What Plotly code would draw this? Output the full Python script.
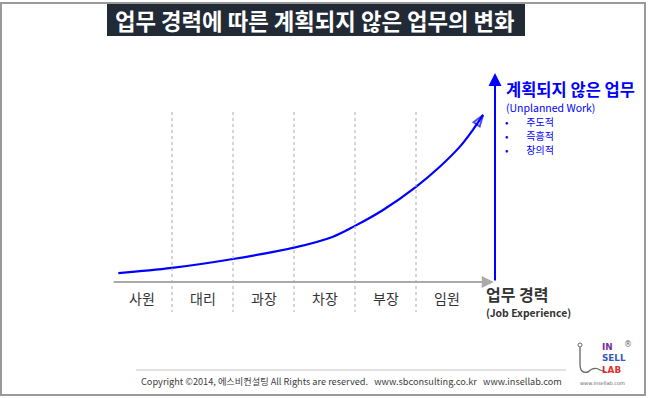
import plotly.graph_objects as go

# ---- data ----
stages = ["사원", "대리", "과장", "차장", "부장", "임원"]
boundaries = [1, 2, 3, 4, 5]
curve_x = [0.12, 1.0, 2.0, 3.0, 3.64, 4.0, 4.46, 5.0, 5.39, 5.72, 5.93, 6.10]
curve_y = [4.3, 6.8, 11.1, 16.6, 21.9, 27.1, 34.8, 46.0, 55.7, 65.4, 73.4, 80.7]
bullets = ["주도적", "즉흥적", "창의적"]

W, H = 650, 398
X0PX, XUNIT = 111, 61.0      # pixel of x=0, px per unit
Y0PX, YUNIT = 282, 2.07      # pixel of y=0, px per unit
FONT = "Noto Sans CJK KR"
BLUE = "#0000ff"


def px(x):
    return x / W


def py(y):
    return 1 - y / H


fig = go.Figure()

# main curve with open arrowhead at the end
sizes = [0] * (len(curve_x) - 1) + [12]
fig.add_trace(go.Scatter(
    x=curve_x, y=curve_y, mode="lines+markers",
    line=dict(color=BLUE, width=2.2, shape="spline", smoothing=1.0),
    marker=dict(symbol="arrow-open", size=sizes, angleref="previous",
                color=BLUE, line=dict(color=BLUE, width=2)),
    hoverinfo="skip", showlegend=False,
))

x_end = (495 - X0PX) / XUNIT
y_top = (Y0PX - 73) / YUNIT

shapes = []
annotations = []

# dotted stage separators
for b in boundaries:
    shapes.append(dict(type="line", xref="x", yref="y", x0=b, x1=b,
                       y0=(Y0PX - 112) / YUNIT, y1=(Y0PX - 312) / YUNIT,
                       line=dict(color="#aaaaaa", width=1, dash="dot")))

# gray horizontal axis with arrow
annotations.append(dict(x=x_end - 0.02, y=0, ax=0.02, ay=0, xref="x", yref="y",
                        axref="x", ayref="y", text="", showarrow=True,
                        arrowhead=2, arrowsize=1.2, arrowwidth=2,
                        arrowcolor="#aaaaaa"))
# blue vertical axis with arrow
annotations.append(dict(x=x_end, y=y_top, ax=x_end, ay=0, xref="x", yref="y",
                        axref="x", ayref="y", text="", showarrow=True,
                        arrowhead=2, arrowsize=1.3, arrowwidth=2,
                        arrowcolor=BLUE))

# stage labels
for i, s in enumerate(stages):
    annotations.append(dict(x=i + 0.5, y=(Y0PX - 298) / YUNIT, xref="x", yref="y",
                            text=s, showarrow=False,
                            font=dict(family=FONT, size=14, color="#333333")))

# x axis title
annotations.append(dict(x=px(484), y=py(294), xref="paper", yref="paper",
                        xanchor="left", yanchor="middle", showarrow=False,
                        text="<b>업무 경력</b>",
                        font=dict(family=FONT, size=16, color="#333333")))
annotations.append(dict(x=px(484), y=py(312), xref="paper", yref="paper",
                        xanchor="left", yanchor="middle", showarrow=False,
                        text="<b>(Job Experience)</b>",
                        font=dict(family=FONT, size=10.4, color="#333333")))

# y axis title & bullets
annotations.append(dict(x=px(505), y=py(88.5), xref="paper", yref="paper",
                        xanchor="left", yanchor="middle", showarrow=False,
                        text="<b>계획되지 않은 업무</b>", borderpad=0,
                        font=dict(family=FONT, size=16.5, color=BLUE)))
annotations.append(dict(x=px(505), y=py(107), xref="paper", yref="paper",
                        xanchor="left", yanchor="middle", showarrow=False,
                        text="(Unplanned Work)", borderpad=0,
                        font=dict(family=FONT, size=10.5, color=BLUE)))
for j, t in enumerate(bullets):
    annotations.append(dict(x=px(504), y=py(121.5 + j * 14), xref="paper",
                            yref="paper", xanchor="left", yanchor="middle",
                            showarrow=False, align="left", borderpad=0,
                            text=f"•&nbsp;&nbsp;&nbsp;&nbsp;&nbsp;&nbsp;&nbsp;&nbsp;{t}",
                            font=dict(family=FONT, size=10, color=BLUE)))

# frame
shapes.append(dict(type="rect", xref="paper", yref="paper",
                   x0=px(1), x1=px(645), y0=py(395), y1=py(3),
                   line=dict(color="#9a9a9a", width=2), layer="below"))
# title box
shapes.append(dict(type="rect", xref="paper", yref="paper",
                   x0=px(107), x1=px(525), y0=py(36), y1=py(4),
                   fillcolor="#222a35", line=dict(width=0), layer="below"))
annotations.append(dict(x=px(315), y=py(20), xref="paper", yref="paper",
                        xanchor="center", yanchor="middle", showarrow=False,
                        text="<b>업무 경력에 따른 계획되지 않은 업무의 변화</b>",
                        font=dict(family=FONT, size=22.3, color="white")))

# footer
shapes.append(dict(type="line", xref="paper", yref="paper",
                   x0=px(136), x1=px(566), y0=py(370), y1=py(370),
                   line=dict(color="#c8c8c8", width=1)))
annotations.append(dict(x=px(351), y=py(381), xref="paper", yref="paper",
                        xanchor="center", yanchor="middle", showarrow=False,
                        text="Copyright ©2014, 에스비컨설팅 All Rights are reserved.   "
                             "www.sbconsulting.co.kr   www.insellab.com",
                        font=dict(family=FONT, size=9.2, color="#404040")))

# logo
shapes.append(dict(type="circle", xref="paper", yref="paper",
                   x0=px(578), x1=px(582), y0=py(347), y1=py(343),
                   line=dict(color="#666666", width=1)))
shapes.append(dict(type="path", xref="paper", yref="paper",
                   path=(f"M {px(580)},{py(347)} L {px(580)},{py(364)} "
                         f"Q {px(580)},{py(374)} {px(588)},{py(372)} "
                         f"Q {px(594)},{py(366)} {px(600)},{py(370)} "
                         f"L {px(606)},{py(372)}"),
                   line=dict(color="#666666", width=1.3)))
logo_text = ("<b><span style='color:#7a2e9c'>IN</span><br>"
             "<span style='color:#3a56c4'>SELL</span><br>"
             "<span style='color:#e03030'>LAB</span></b>")
annotations.append(dict(x=px(601), y=py(341), xref="paper", yref="paper",
                        xanchor="left", yanchor="top", showarrow=False,
                        align="left", text=logo_text, borderpad=0,
                        font=dict(family="DejaVu Sans", size=8.8, color="#666666")))
annotations.append(dict(x=px(628), y=py(344), xref="paper", yref="paper",
                        xanchor="center", yanchor="middle", showarrow=False,
                        text="®", font=dict(family="DejaVu Sans", size=8, color="#666666")))
annotations.append(dict(x=px(602), y=py(383), xref="paper", yref="paper",
                        xanchor="center", yanchor="middle", showarrow=False,
                        text="www.insellab.com",
                        font=dict(family="DejaVu Sans", size=5, color="#666666")))

fig.update_layout(
    width=W, height=H,
    margin=dict(l=0, r=0, t=0, b=0),
    paper_bgcolor="white", plot_bgcolor="white",
    xaxis=dict(range=[-X0PX / XUNIT, (W - X0PX) / XUNIT], visible=False,
               fixedrange=True),
    yaxis=dict(range=[-(H - Y0PX) / YUNIT, Y0PX / YUNIT], visible=False,
               fixedrange=True),
    shapes=shapes, annotations=annotations,
    showlegend=False,
)

fig.write_html("out.html",
               config={"displayModeBar": False},
               post_script="document.body.style.margin='0';"
                           "document.body.style.overflow='hidden';")
